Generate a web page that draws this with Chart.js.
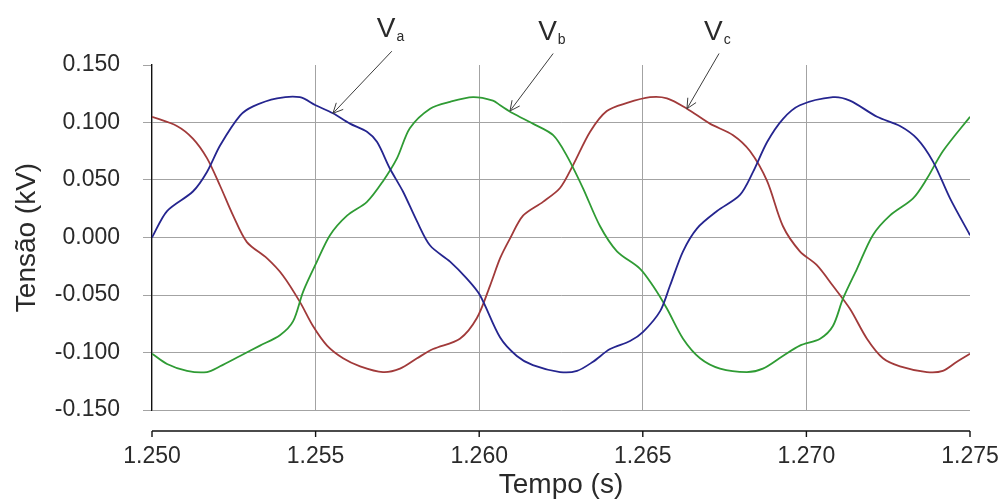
<!DOCTYPE html>
<html>
<head>
<meta charset="utf-8">
<title>Tensão trifásica</title>
<script src="https://cdn.jsdelivr.net/npm/chart.js@4.4.0/dist/chart.umd.min.js"></script>
<style>
  html, body { margin: 0; padding: 0; background: #fff; }
  #wrap { width: 1001px; height: 502px; }
</style>
</head>
<body>
<div id="wrap"><canvas id="chart" width="1001" height="502"></canvas></div>
<script>
'use strict';

// ── Data (time in s, voltage in kV) ──
const xTicks = [1.250, 1.255, 1.260, 1.265, 1.270, 1.275];
const yTicks = [-0.150, -0.100, -0.050, 0.000, 0.050, 0.100, 0.150];

const vaTime = [1.25000, 1.25046, 1.25125, 1.25168, 1.25208, 1.25269, 1.25309, 1.25382, 1.25452, 1.25500,
  1.25553, 1.25605, 1.25657, 1.25688, 1.25727, 1.25767, 1.25810, 1.25850, 1.25911, 1.25963,
  1.26002, 1.26064, 1.26115, 1.26164, 1.26247, 1.26299, 1.26348, 1.26400, 1.26461, 1.26501,
  1.26553, 1.26583, 1.26623, 1.26666, 1.26727, 1.26797, 1.26837, 1.26880, 1.26928, 1.26980,
  1.27081, 1.27133, 1.27216, 1.27286, 1.27338, 1.27387, 1.27439, 1.27500];
const vaVolt = [0.000, 0.023, 0.040, 0.057, 0.080, 0.106, 0.114, 0.121, 0.122, 0.115,
  0.108, 0.099, 0.092, 0.083, 0.060, 0.040, 0.014, -0.007, -0.021, -0.036,
  -0.050, -0.087, -0.103, -0.111, -0.117, -0.116, -0.108, -0.097, -0.090, -0.082,
  -0.064, -0.042, -0.012, 0.008, 0.023, 0.037, 0.057, 0.083, 0.103, 0.115,
  0.122, 0.119, 0.105, 0.097, 0.086, 0.066, 0.034, 0.002];

const vbTime = [1.25000, 1.25046, 1.25107, 1.25168, 1.25208, 1.25269, 1.25330, 1.25391, 1.25431, 1.25462,
  1.25504, 1.25544, 1.25596, 1.25657, 1.25706, 1.25749, 1.25788, 1.25850, 1.25911, 1.25981,
  1.26042, 1.26064, 1.26103, 1.26164, 1.26226, 1.26268, 1.26317, 1.26369, 1.26421, 1.26491,
  1.26531, 1.26574, 1.26623, 1.26675, 1.26736, 1.26818, 1.26867, 1.26928, 1.26980, 1.27042,
  1.27081, 1.27112, 1.27155, 1.27203, 1.27255, 1.27326, 1.27368, 1.27417, 1.27500];
const vbVolt = [-0.101, -0.110, -0.116, -0.117, -0.112, -0.103, -0.094, -0.085, -0.073, -0.047,
  -0.021, 0.002, 0.019, 0.031, 0.049, 0.069, 0.095, 0.112, 0.118, 0.122,
  0.119, 0.115, 0.108, 0.099, 0.089, 0.071, 0.043, 0.010, -0.012, -0.027,
  -0.042, -0.062, -0.088, -0.105, -0.114, -0.117, -0.114, -0.103, -0.094, -0.088,
  -0.077, -0.053, -0.027, 0.002, 0.019, 0.034, 0.051, 0.075, 0.105];

const vcTime = [1.25000, 1.25076, 1.25125, 1.25168, 1.25208, 1.25248, 1.25290, 1.25351, 1.25400, 1.25452,
  1.25492, 1.25535, 1.25584, 1.25636, 1.25706, 1.25758, 1.25810, 1.25859, 1.25941, 1.25993,
  1.26033, 1.26064, 1.26094, 1.26134, 1.26195, 1.26247, 1.26287, 1.26339, 1.26390, 1.26452,
  1.26522, 1.26574, 1.26635, 1.26705, 1.26776, 1.26828, 1.26880, 1.26928, 1.26980, 1.27032,
  1.27081, 1.27133, 1.27185, 1.27234, 1.27286, 1.27368, 1.27417, 1.27460, 1.27500];
const vcVolt = [0.105, 0.097, 0.086, 0.069, 0.045, 0.019, -0.004, -0.018, -0.033, -0.056,
  -0.077, -0.094, -0.105, -0.112, -0.117, -0.114, -0.105, -0.097, -0.088, -0.070,
  -0.042, -0.018, -0.001, 0.019, 0.031, 0.043, 0.063, 0.092, 0.110, 0.117,
  0.122, 0.121, 0.112, 0.099, 0.089, 0.075, 0.049, 0.010, -0.012, -0.024,
  -0.042, -0.062, -0.088, -0.105, -0.112, -0.117, -0.116, -0.108, -0.101];

// arrow annotations: tip on the curve, tail above the plot (data coords)
const labels = [
  { name: 'V', sub: 'a', tip: [1.25553, 0.108], tail: [1.25733, 0.162] },
  { name: 'V', sub: 'b', tip: [1.26094, 0.110], tail: [1.26226, 0.160] },
  { name: 'V', sub: 'c', tip: [1.26635, 0.112], tail: [1.26733, 0.160] },
];

const zip = (xs, ys) => xs.map((x, i) => ({ x: x, y: ys[i] }));
const FONT = "'Liberation Sans', Arial, sans-serif";
const TEXT = '#2a2a2a';
const GRID = '#a3a3a3';

// ── Offset x-axis line + arrows ──
const extrasPlugin = {
  id: 'extras',
  afterDraw(chart) {
    const ctx = chart.ctx;
    const xs = chart.scales.x;
    const ys = chart.scales.y;
    const axisY = chart.chartArea.bottom + 21;

    ctx.save();
    ctx.strokeStyle = '#111';
    ctx.lineWidth = 1.4;
    ctx.beginPath();
    ctx.moveTo(xs.getPixelForValue(xTicks[0]), axisY);
    ctx.lineTo(xs.getPixelForValue(xTicks[xTicks.length - 1]), axisY);
    xTicks.forEach((t) => {
      const px = xs.getPixelForValue(t);
      ctx.moveTo(px, axisY);
      ctx.lineTo(px, axisY + 6);
    });
    ctx.stroke();

    ctx.strokeStyle = '#3c3c3c';
    ctx.fillStyle = TEXT;
    ctx.lineWidth = 1;
    labels.forEach((l) => {
      const tx = xs.getPixelForValue(l.tip[0]);
      const ty = ys.getPixelForValue(l.tip[1]);
      const sx = xs.getPixelForValue(l.tail[0]);
      const sy = ys.getPixelForValue(l.tail[1]);
      const ang = Math.atan2(ty - sy, tx - sx);
      ctx.beginPath();
      ctx.moveTo(sx, sy);
      ctx.lineTo(tx, ty);
      [0.45, -0.45].forEach((d) => {
        ctx.moveTo(tx, ty);
        ctx.lineTo(tx - 11 * Math.cos(ang + d), ty - 11 * Math.sin(ang + d));
      });
      ctx.stroke();

      ctx.textAlign = 'left';
      ctx.textBaseline = 'alphabetic';
      ctx.font = '28px ' + FONT;
      ctx.fillText(l.name, sx - 15, sy - 14);
      const w = ctx.measureText(l.name).width;
      ctx.font = '14px ' + FONT;
      ctx.fillText(l.sub, sx - 15 + w + 1, sy - 10);
    });
    ctx.restore();
  },
};

new Chart(document.getElementById('chart'), {
  type: 'line',
  data: {
    datasets: [
      { label: 'Va', data: zip(vaTime, vaVolt), borderColor: '#25258f' },
      { label: 'Vb', data: zip(vbTime, vbVolt), borderColor: '#2f9b34' },
      { label: 'Vc', data: zip(vcTime, vcVolt), borderColor: '#a13a3a' },
    ],
  },
  options: {
    responsive: false,
    animation: false,
    layout: { padding: { top: 65, right: 31, bottom: 0, left: 0 } },
    elements: {
      point: { radius: 0 },
      line: { borderWidth: 1.8, tension: 0.3, fill: false },
    },
    plugins: { legend: { display: false }, tooltip: { enabled: false } },
    scales: {
      x: {
        type: 'linear',
        min: xTicks[0], max: xTicks[xTicks.length - 1],
        afterBuildTicks: (s) => { s.ticks = xTicks.map((v) => ({ value: v })); },
        afterFit: (s) => { s.height = 92; s.paddingLeft = 0; s.paddingRight = 0; },
        border: { display: false },
        grid: {
          drawTicks: false,
          color: (c) => (c.index === 0 || c.index === xTicks.length - 1 ? 'rgba(0,0,0,0)' : GRID),
        },
        ticks: {
          padding: 33,
          maxRotation: 0,
          color: TEXT,
          font: { family: FONT, size: 23 },
          callback: (v) => Number(v).toFixed(3),
        },
        title: {
          display: true,
          text: 'Tempo (s)',
          color: TEXT,
          font: { family: FONT, size: 28 },
          padding: { top: 0, bottom: 0 },
        },
      },
      y: {
        min: yTicks[0], max: yTicks[yTicks.length - 1],
        afterBuildTicks: (s) => { s.ticks = yTicks.map((v) => ({ value: v })); },
        afterFit: (s) => { s.width = 152; s.paddingTop = 0; s.paddingBottom = 0; },
        border: { display: true, color: '#111', width: 1.4 },
        grid: {
          tickLength: 9,
          color: (c) => (c.index === yTicks.length - 1 ? 'rgba(0,0,0,0)' : GRID),
          tickColor: GRID,
        },
        ticks: {
          padding: 23,
          color: TEXT,
          font: { family: FONT, size: 23 },
          callback: (v) => Number(v).toFixed(3),
        },
        title: {
          display: true,
          text: 'Tensão (kV)',
          color: TEXT,
          font: { family: FONT, size: 28 },
          padding: { top: 10, bottom: 0 },
        },
      },
    },
  },
  plugins: [extrasPlugin],
});
</script>
</body>
</html>
